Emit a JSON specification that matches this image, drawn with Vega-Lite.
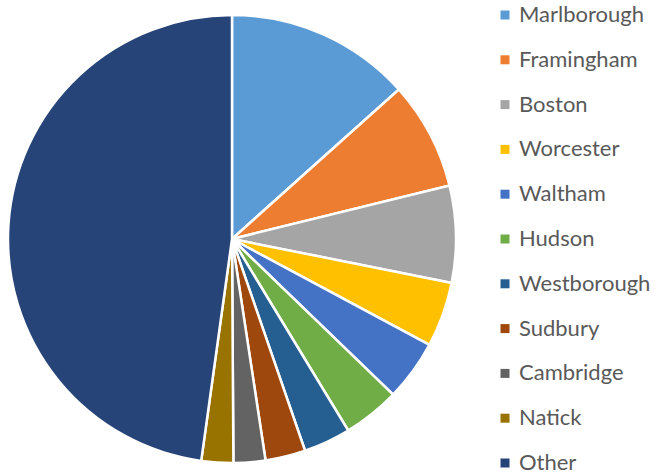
{
  "$schema": "https://vega.github.io/schema/vega-lite/v6.json",
  "width": 464,
  "height": 478,
  "padding": 0,
  "autosize": {"type": "pad"},
  "background": "white",
  "data": {
    "values": [
      {"city": "Marlborough", "rank": 1, "share": 13.4},
      {"city": "Framingham", "rank": 2, "share": 7.8},
      {"city": "Boston", "rank": 3, "share": 7.0},
      {"city": "Worcester", "rank": 4, "share": 4.7},
      {"city": "Waltham", "rank": 5, "share": 4.4},
      {"city": "Hudson", "rank": 6, "share": 4.1},
      {"city": "Westborough", "rank": 7, "share": 3.4},
      {"city": "Sudbury", "rank": 8, "share": 2.9},
      {"city": "Cambridge", "rank": 9, "share": 2.3},
      {"city": "Natick", "rank": 10, "share": 2.3},
      {"city": "Other", "rank": 11, "share": 47.9}
    ]
  },
  "mark": {"type": "arc", "radius": 224, "stroke": "white", "strokeWidth": 2.5},
  "encoding": {
    "theta": {"field": "share", "type": "quantitative", "stack": true},
    "order": {"field": "rank", "type": "quantitative"},
    "color": {
      "field": "city",
      "type": "nominal",
      "sort": null,
      "scale": {
        "domain": ["Marlborough", "Framingham", "Boston", "Worcester", "Waltham", "Hudson", "Westborough", "Sudbury", "Cambridge", "Natick", "Other"],
        "range": ["#5B9BD5", "#ED7D31", "#A5A5A5", "#FFC000", "#4472C4", "#70AD47", "#255E91", "#9E480E", "#636363", "#997300", "#264478"]
      },
      "legend": {
        "title": null,
        "orient": "right",
        "offset": 26,
        "symbolType": "square",
        "symbolSize": 81,
        "symbolStrokeWidth": 0,
        "labelFont": "Lato",
        "labelFontSize": 22,
        "labelColor": "#595959",
        "labelOffset": 3,
        "rowPadding": 22.8,
        "padding": 4,
        "labelLimit": 300
      }
    }
  },
  "config": {"view": {"stroke": null}}
}
